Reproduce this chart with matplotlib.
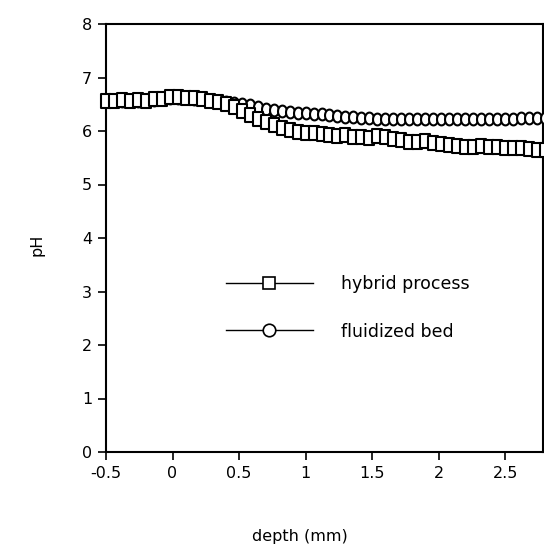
import matplotlib
matplotlib.use("Agg")
import matplotlib.pyplot as plt
from matplotlib.path import Path
from matplotlib.lines import Line2D
import numpy as np

depth = [-0.50, -0.44, -0.38, -0.32, -0.26, -0.20, -0.14, -0.08, -0.02, 0.04,
         0.10, 0.16, 0.22, 0.28, 0.34, 0.40, 0.46, 0.52, 0.58, 0.64,
         0.70, 0.76, 0.82, 0.88, 0.94, 1.00, 1.06, 1.12, 1.18, 1.24,
         1.30, 1.36, 1.42, 1.48, 1.54, 1.60, 1.66, 1.72, 1.78, 1.84,
         1.90, 1.96, 2.02, 2.08, 2.14, 2.20, 2.26, 2.32, 2.38, 2.44,
         2.50, 2.56, 2.62, 2.68, 2.74, 2.80]

hybrid = [6.57, 6.57, 6.58, 6.57, 6.58, 6.57, 6.59, 6.60, 6.63, 6.63,
          6.62, 6.61, 6.60, 6.57, 6.54, 6.50, 6.44, 6.37, 6.30, 6.23,
          6.17, 6.11, 6.06, 6.02, 5.99, 5.97, 5.97, 5.94, 5.92, 5.90,
          5.92, 5.89, 5.88, 5.87, 5.90, 5.88, 5.85, 5.83, 5.80, 5.80,
          5.82, 5.78, 5.75, 5.73, 5.72, 5.71, 5.71, 5.72, 5.70, 5.70,
          5.69, 5.68, 5.68, 5.66, 5.64, 5.65]

fluidized = [6.56, 6.56, 6.57, 6.57, 6.57, 6.57, 6.58, 6.59, 6.61, 6.62,
             6.61, 6.60, 6.59, 6.58, 6.57, 6.55, 6.53, 6.51, 6.48, 6.45,
             6.42, 6.40, 6.38, 6.36, 6.34, 6.33, 6.32, 6.31, 6.29, 6.28,
             6.27, 6.26, 6.25, 6.24, 6.23, 6.23, 6.22, 6.22, 6.22, 6.22,
             6.22, 6.22, 6.22, 6.22, 6.22, 6.22, 6.23, 6.23, 6.23, 6.23,
             6.23, 6.23, 6.24, 6.24, 6.24, 6.24]

xticks = [-0.5, 0, 0.5, 1, 1.5, 2, 2.5]
xticklabels = ["-0.5", "0", "0.5", "1", "1.5", "2", "2.5"]
yticks = [0, 1, 2, 3, 4, 5, 6, 7, 8]

plt.rcParams['font.family'] = ['DejaVu Sans']

W, H = 544, 556
fig = plt.figure(figsize=(W / 100, H / 100), dpi=100)
ax = fig.add_axes([106 / W, 1 - 452 / H, (543 - 106) / W, (452 - 24) / H])

# narrow rectangle marker and narrow ellipse marker (as they appear in the plot)
rect = Path([(-0.36, -0.5), (0.36, -0.5), (0.36, 0.5), (-0.36, 0.5), (-0.36, -0.5)],
            [Path.MOVETO, Path.LINETO, Path.LINETO, Path.LINETO, Path.CLOSEPOLY])
t = np.linspace(0, 2 * np.pi, 41)
ell = Path(np.column_stack([0.38 * np.cos(t), 0.5 * np.sin(t)]), closed=True)

ax.plot(depth, fluidized, color='black', lw=1.0, marker=ell, ms=8.5,
        mfc='white', mec='black', mew=1.5, clip_on=False, zorder=3)
ax.plot(depth, hybrid, color='black', lw=1.0, marker=rect, ms=10,
        mfc='white', mec='black', mew=1.5, clip_on=False, zorder=4)

ax.set_xlim(-0.5, 2.785)
ax.set_ylim(0, 8)
ax.set_xticks(xticks)
ax.set_xticklabels(xticklabels)
ax.set_yticks(yticks)
ax.tick_params(direction='out', length=6, width=1.2, labelsize=11.5, color='black', pad=4)
for s in ax.spines.values():
    s.set_linewidth(1.5)

h1 = Line2D([], [], color='black', lw=1.0, marker='s', ms=9, mfc='white', mec='black', mew=1.2)
h2 = Line2D([], [], color='black', lw=1.0, marker='o', ms=9, mfc='white', mec='black', mew=1.2)
leg = ax.legend([h1, h2], ['hybrid process', 'fluidized bed'], loc='upper left',
                bbox_to_anchor=((226 - 106) / (543 - 106), (452 - 275) / (452 - 24)),
                frameon=False, fontsize=12.5, handlelength=5.0, handletextpad=1.6,
                labelspacing=1.7, borderpad=0, borderaxespad=0)

fig.text(300 / W, 1 - 537 / H, "depth (mm)", ha='center', va='center', fontsize=11.5)
fig.text(37 / W, 1 - 245 / H, "pH", ha='center', va='center', rotation=90, fontsize=11.5)

fig.savefig("out.png", dpi=100)
